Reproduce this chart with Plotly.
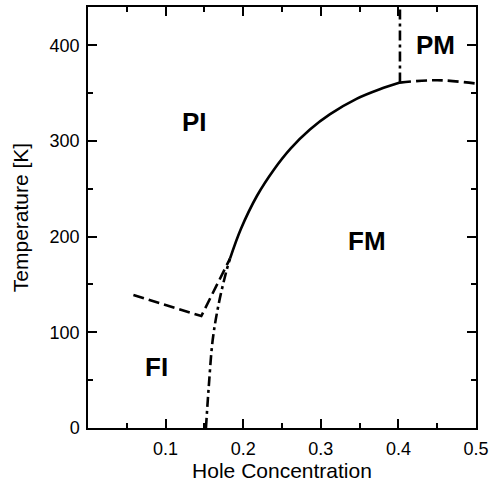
import plotly.graph_objects as go

# Data
solid_x = [0.183, 0.197, 0.218, 0.2395, 0.261, 0.286, 0.312, 0.346, 0.376, 0.402]
solid_y = [177, 208, 243, 270, 292, 312, 328, 344, 354, 361]

dash_low_x = [0.0585, 0.146, 0.183]
dash_low_y = [139, 117, 177]

dashdot_low_x = [0.152, 0.1556, 0.1607, 0.168, 0.178, 0.183]
dashdot_low_y = [0, 43, 92, 128, 163, 177]

dashdot_vert_x = [0.402, 0.402]
dashdot_vert_y = [361, 440]

dash_high_x = [0.402, 0.45, 0.5]
dash_high_y = [361, 363.5, 360]

labels = ["PI", "PM", "FM", "FI"]
label_x = [0.137, 0.448, 0.360, 0.088]
label_y = [320, 400, 195, 64]

x_tickvals = [0.1, 0.2, 0.3, 0.4, 0.5]
x_ticktext = ["0.1", "0.2", "0.3", "0.4", "0.5"]
y_tickvals = [0, 100, 200, 300, 400]
y_ticktext = ["0", "100", "200", "300", "400"]

FONT = "Liberation Sans, Arial, Helvetica, sans-serif"
LW = 2.6

fig = go.Figure()
fig.add_trace(go.Scatter(x=solid_x, y=solid_y, mode="lines",
                         line=dict(color="black", width=LW, shape="spline", smoothing=1.0)))
fig.add_trace(go.Scatter(x=dash_low_x, y=dash_low_y, mode="lines",
                         line=dict(color="black", width=LW, dash="11px,5px")))
fig.add_trace(go.Scatter(x=dashdot_low_x, y=dashdot_low_y, mode="lines",
                         line=dict(color="black", width=LW, shape="spline",
                                   dash="10px,4px,3px,4px")))
fig.add_trace(go.Scatter(x=dashdot_vert_x, y=dashdot_vert_y, mode="lines",
                         line=dict(color="black", width=LW, dash="10px,4px,3px,4px")))
fig.add_trace(go.Scatter(x=dash_high_x, y=dash_high_y, mode="lines",
                         line=dict(color="black", width=LW, shape="spline", dash="11px,5px")))

for t, x, y in zip(labels, label_x, label_y):
    fig.add_annotation(x=x, y=y, xref="x", yref="y", text="<b>%s</b>" % t,
                       showarrow=False, font=dict(size=26, color="black", family=FONT),
                       xanchor="center", yanchor="middle")

fig.update_layout(
    width=494, height=483,
    margin=dict(l=87.5, r=15, t=5.7, b=54.7),
    paper_bgcolor="white", plot_bgcolor="white",
    showlegend=False,
    font=dict(family=FONT, color="black", size=18),
)
fig.update_xaxes(
    range=[0, 0.5], tickvals=x_tickvals, ticktext=x_ticktext,
    ticks="inside", ticklen=9, tickwidth=1.5, tickcolor="black",
    showline=True, linewidth=1.5, linecolor="black", mirror="ticks",
    showgrid=False, zeroline=False,
    minor=dict(dtick=0.05, tick0=0, ticks="inside", ticklen=5, tickwidth=1.5, tickcolor="black", showgrid=False),
    tickfont=dict(size=18), ticklabelstandoff=4,
    title=dict(text="Hole Concentration", font=dict(size=21), standoff=0),
)
fig.update_yaxes(
    range=[0, 440], tickvals=y_tickvals, ticktext=y_ticktext,
    ticks="inside", ticklen=9, tickwidth=1.5, tickcolor="black",
    showline=True, linewidth=1.5, linecolor="black", mirror="ticks",
    showgrid=False, zeroline=False,
    minor=dict(dtick=50, tick0=0, ticks="inside", ticklen=5, tickwidth=1.5, tickcolor="black", showgrid=False),
    tickfont=dict(size=18), ticklabelstandoff=3,
    title=dict(text="Temperature [K]", font=dict(size=21), standoff=15),
)

fig.write_html("out.html", config={"displayModeBar": False},
               post_script="document.body.style.margin='0';document.body.style.overflow='hidden';")
